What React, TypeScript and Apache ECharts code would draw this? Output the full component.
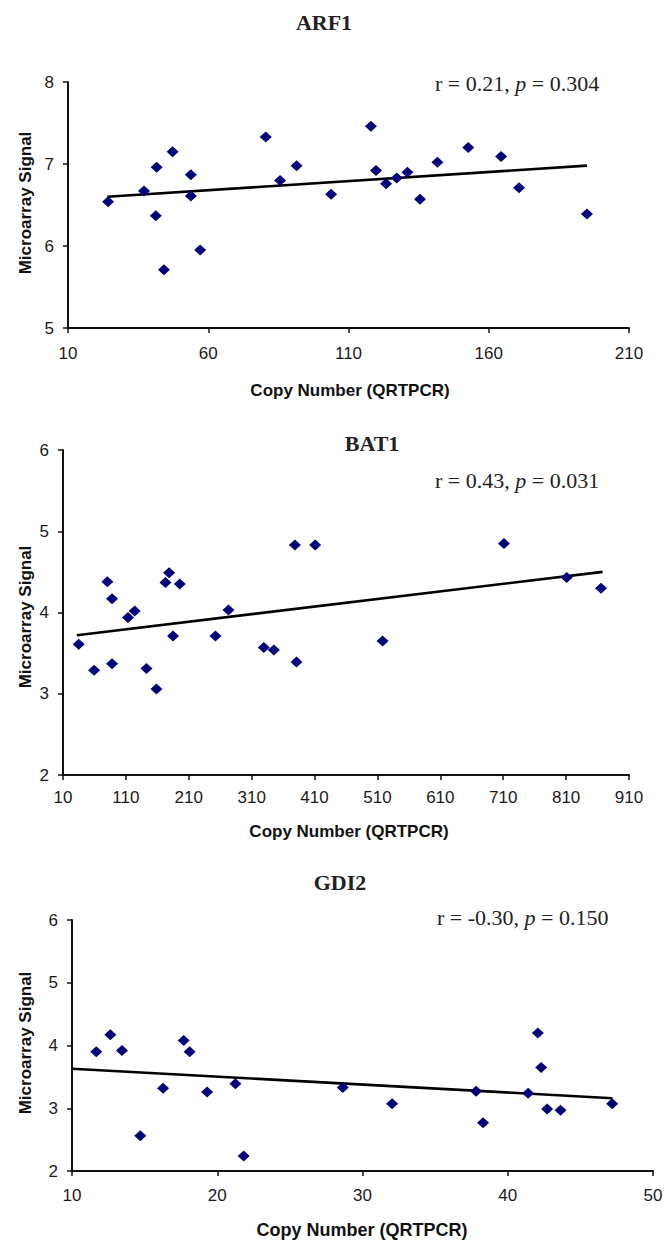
import React, { useEffect, useRef } from "react";
import * as echarts from "echarts";

// ---------- data ----------
const arf1Points: [number, number][] = [
  [24.3, 6.54], [37.1, 6.67], [41.6, 6.96], [41.3, 6.37], [47.3, 7.15],
  [44.2, 5.71], [53.8, 6.87], [53.8, 6.61], [57.1, 5.95], [80.5, 7.33],
  [85.6, 6.8], [91.5, 6.98], [103.8, 6.63], [118.0, 7.46], [119.8, 6.92],
  [123.4, 6.76], [127.2, 6.83], [131.0, 6.9], [135.5, 6.57], [141.7, 7.02],
  [152.7, 7.2], [164.4, 7.09], [170.8, 6.71], [195.0, 6.39],
];
const arf1Trend: [number, number][] = [[24, 6.6], [195, 6.98]];
const arf1XTicks = [10, 60, 110, 160, 210];

const bat1Points: [number, number][] = [
  [35, 3.61], [59.4, 3.29], [80.6, 4.38], [88, 4.17], [88, 3.37],
  [113.4, 3.94], [124, 4.02], [142.7, 3.31], [158.6, 3.06], [172.9, 4.37],
  [178.7, 4.49], [195.7, 4.35], [185, 3.71], [252.4, 3.71], [273.1, 4.03],
  [329.3, 3.57], [345.3, 3.54], [378.7, 4.83], [381.3, 3.39], [411, 4.83],
  [518.2, 3.65], [711.2, 4.85], [811, 4.43], [865.5, 4.3],
];
const bat1Trend: [number, number][] = [[32, 3.72], [868, 4.5]];
const bat1XTicks = [10, 110, 210, 310, 410, 510, 610, 710, 810, 910];

const gdi2Points: [number, number][] = [
  [11.67, 3.9], [12.64, 4.17], [13.44, 3.92], [14.7, 2.56], [16.27, 3.32],
  [17.69, 4.08], [18.1, 3.9], [19.3, 3.26], [21.25, 3.39], [21.82, 2.24],
  [28.64, 3.33], [32.04, 3.07], [37.82, 3.27], [38.3, 2.77], [41.4, 3.24],
  [42.07, 4.2], [42.3, 3.65], [42.71, 2.99], [43.63, 2.97], [47.19, 3.07],
];
const gdi2Trend: [number, number][] = [[10, 3.63], [47.2, 3.16]];
const gdi2XTicks = [10, 20, 30, 40, 50];

const titles = ["ARF1", "BAT1", "GDI2"];
const stats = [
  ["r = 0.21, ", "p", " = 0.304"],
  ["r = 0.43, ", "p", " = 0.031"],
  ["r = -0.30, ", "p", " = 0.150"],
];
const xName = "Copy Number (QRTPCR)";
const yName = "Microarray Signal";

// ---------- styling ----------
const SANS = 'Arial, "Liberation Sans", sans-serif';
const SERIF = '"Times New Roman", "Liberation Serif", serif';
const MARK = "#00007a";

export default function App() {
  const ref = useRef<HTMLDivElement>(null);

  useEffect(() => {
    document.body.style.margin = "0";
    if (!ref.current) return;
    const chart = echarts.init(ref.current, undefined, { renderer: "svg" });

    const grids = [
      { left: 68, top: 82, width: 561, height: 246 },
      { left: 63, top: 450, width: 566, height: 325 },
      { left: 72, top: 920, width: 581, height: 251 },
    ];
    const xCfg = [
      { min: 10, max: 210, ticks: arf1XTicks, margin: 17 },
      { min: 10, max: 910, ticks: bat1XTicks, margin: 14 },
      { min: 10, max: 50, ticks: gdi2XTicks, margin: 16 },
    ];
    const yCfg = [
      { min: 5, max: 8 },
      { min: 2, max: 6 },
      { min: 2, max: 6 },
    ];
    const pts = [arf1Points, bat1Points, gdi2Points];
    const trends = [arf1Trend, bat1Trend, gdi2Trend];

    const axisLine = { lineStyle: { color: "#111", width: 2 } };
    const axisTick = { length: 5, lineStyle: { color: "#111", width: 1.5 } };

    const xAxis = xCfg.map((c, i) => ({
      type: "value",
      gridIndex: i,
      min: c.min,
      max: c.max,
      splitLine: { show: false },
      axisLine: { show: true, onZero: false, ...axisLine },
      axisTick: { show: true, ...axisTick, customValues: c.ticks },
      axisLabel: {
        customValues: c.ticks,
        showMinLabel: true,
        showMaxLabel: true,
        margin: c.margin,
        fontFamily: SANS,
        fontSize: 17,
        color: "#1a1a1a",
      },
    }));
    const yAxis = yCfg.map((c, i) => ({
      type: "value",
      gridIndex: i,
      min: c.min,
      max: c.max,
      interval: 1,
      splitLine: { show: false },
      axisLine: { show: true, onZero: false, ...axisLine },
      axisTick: { show: true, ...axisTick },
      axisLabel: {
        margin: 14,
        fontFamily: SANS,
        fontSize: 17,
        color: "#1a1a1a",
      },
    }));

    const series: any[] = [];
    for (let i = 0; i < 3; i++) {
      series.push({
        type: "line",
        xAxisIndex: i,
        yAxisIndex: i,
        data: trends[i],
        symbol: "none",
        lineStyle: { color: "#000", width: 2.6 },
        z: 2,
      });
      series.push({
        type: "scatter",
        xAxisIndex: i,
        yAxisIndex: i,
        data: pts[i],
        symbol: "diamond",
        symbolSize: [12, 11],
        itemStyle: { color: MARK, opacity: 1 },
        z: 3,
      });
    }

    const titlePos = [
      [324, 22],
      [372, 443],
      [340, 882],
    ];
    const statPos = [
      [435, 83],
      [435, 480],
      [437, 917],
    ];
    const xNamePos = [
      [350, 390],
      [349, 831],
      [362, 1230],
    ];
    const yNamePos = [
      [25, 203],
      [25, 617],
      [25, 1043],
    ];

    const graphic: any[] = [];
    for (let i = 0; i < 3; i++) {
      graphic.push({
        type: "text",
        x: titlePos[i][0],
        y: titlePos[i][1],
        style: {
          text: titles[i],
          font: `bold 22px ${SERIF}`,
          fill: "#222",
          textAlign: "center",
          textVerticalAlign: "middle",
        },
      });
      graphic.push({
        type: "text",
        x: statPos[i][0],
        y: statPos[i][1],
        style: {
          text: `{a|${stats[i][0]}}{i|${stats[i][1]}}{a|${stats[i][2]}}`,
          textAlign: "left",
          textVerticalAlign: "middle",
          rich: {
            a: { fontFamily: SERIF, fontSize: 22, fill: "#222", color: "#222" },
            i: {
              fontFamily: SERIF,
              fontSize: 22,
              fontStyle: "italic",
              fill: "#222",
              color: "#222",
            },
          },
        },
      });
      graphic.push({
        type: "text",
        x: xNamePos[i][0],
        y: xNamePos[i][1],
        style: {
          text: xName,
          font: `bold ${i === 2 ? 18 : 17}px ${SANS}`,
          fill: "#111",
          textAlign: "center",
          textVerticalAlign: "middle",
        },
      });
      graphic.push({
        type: "text",
        x: yNamePos[i][0],
        y: yNamePos[i][1],
        rotation: Math.PI / 2,
        style: {
          text: yName,
          font: `bold 17px ${SANS}`,
          fill: "#111",
          textAlign: "center",
          textVerticalAlign: "middle",
        },
      });
    }

    chart.setOption({
      animation: false,
      backgroundColor: "#ffffff",
      grid: grids,
      xAxis,
      yAxis,
      series,
      graphic,
    });

    return () => chart.dispose();
  }, []);

  return <div ref={ref} style={{ width: 668, height: 1246 }} />;
}
